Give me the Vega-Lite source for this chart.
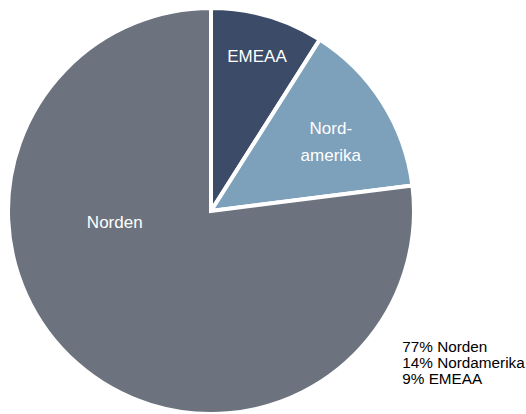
{
  "$schema": "https://vega.github.io/schema/vega-lite/v6.json",
  "autosize": "none",
  "width": 422,
  "height": 406,
  "padding": {"left": 0, "top": 8, "right": 104, "bottom": 0},
  "background": "white",
  "config": {"view": {"stroke": null}, "font": "Liberation Sans"},
  "data": {
    "values": [
      {"region": "EMEAA", "label": "EMEAA", "share": 9, "legend": "9% EMEAA", "order": 1},
      {"region": "Nordamerika", "label": "Nord-\namerika", "share": 14, "legend": "14% Nordamerika", "order": 2},
      {"region": "Norden", "label": "Norden", "share": 77, "legend": "77% Norden", "order": 3}
    ]
  },
  "encoding": {
    "theta": {"field": "share", "type": "quantitative", "stack": true},
    "order": {"field": "order", "type": "quantitative"}
  },
  "layer": [
    {
      "mark": {"type": "arc", "outerRadius": 203, "stroke": "white", "strokeWidth": 4},
      "encoding": {
        "color": {
          "field": "legend",
          "type": "nominal",
          "scale": {
            "domain": ["77% Norden", "14% Nordamerika", "9% EMEAA"],
            "range": ["#6c737e", "#7da0bb", "#3b4b68"]
          },
          "legend": {
            "title": null,
            "orient": "none",
            "legendX": 387,
            "legendY": 331,
            "symbolSize": 0,
            "symbolStrokeWidth": 0,
            "symbolOpacity": 0,
            "labelOffset": 0,
            "labelFontSize": 15.3,
            "labelFont": "Liberation Sans",
            "labelColor": "#000000",
            "rowPadding": 0.3,
            "padding": 0
          }
        }
      }
    },
    {
      "mark": {"type": "text", "radius": 161, "fontSize": 17, "color": "white", "font": "Liberation Sans", "letterSpacing": -1.2, "thetaOffset": 0.007},
      "encoding": {"text": {"condition": {"test": "datum.region == 'EMEAA'", "field": "label"}, "value": ""}}
    },
    {
      "mark": {"type": "text", "radius": 145, "fontSize": 17, "color": "white", "font": "Liberation Sans", "lineBreak": "\n", "lineHeight": 27, "thetaOffset": -0.033},
      "encoding": {"text": {"condition": {"test": "datum.region == 'Nordamerika'", "field": "label"}, "value": ""}}
    },
    {
      "mark": {"type": "text", "radius": 97, "fontSize": 17, "color": "white", "font": "Liberation Sans", "thetaOffset": 0.726},
      "encoding": {"text": {"condition": {"test": "datum.region == 'Norden'", "field": "label"}, "value": ""}}
    }
  ]
}
